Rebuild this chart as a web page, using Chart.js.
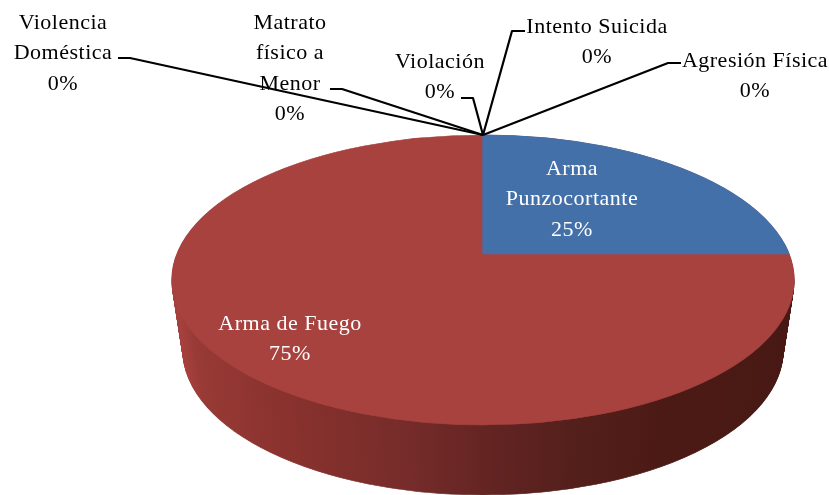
<!DOCTYPE html>
<html>
<head>
<meta charset="utf-8">
<script src="https://cdn.jsdelivr.net/npm/chart.js@4"></script>
<style>
    html, body { margin: 0; padding: 0; background: #fff; }
    #wrap { width: 829px; height: 495px; }
</style>
</head>
<body>
<div id="wrap"><canvas id="chart"></canvas></div>
<script>
const categories = ['Arma Punzocortante', 'Arma de Fuego', 'Violencia Doméstica', 'Matrato físico a Menor', 'Violación', 'Intento Suicida', 'Agresión Física'];
const values = [25, 75, 0, 0, 0, 0, 0];
const colors = ['#4370a8', '#a8423f', '#a8423f', '#a8423f', '#a8423f', '#a8423f', '#a8423f'];

// where each label goes: wrapped lines, centre x, first baseline y, leader line points
const labelLayout = [
    { lines: ['Arma', 'Punzocortante'], x: 572, y: 175, color: '#fff' },
    { lines: ['Arma de Fuego'], x: 290, y: 330, color: '#fff' },
    { lines: ['Violencia', 'Doméstica'], x: 63, y: 29, color: '#000', leader: [[118, 58], [130, 58]] },
    { lines: ['Matrato', 'físico a', 'Menor'], x: 290, y: 29, color: '#000', leader: [[330, 89], [342, 89]] },
    { lines: ['Violación'], x: 440, y: 68, color: '#000', leader: [[461, 98], [473, 98]] },
    { lines: ['Intento Suicida'], x: 597, y: 33, color: '#000', leader: [[525, 31], [512, 31]] },
    { lines: ['Agresión Física'], x: 755, y: 67, color: '#000', leader: [[681, 63], [668, 63]] }
];

// el disco visto en perspectiva
const top3d = { cx: 483, cy: 280, rx: 311, ry: 145 };
const base3d = { cx: 483, cy: 350, rx: 300, ry: 145 };
const sliceApex = { cx: 483, cy: 254, rx: 330, ry: 125 };
const LINE_HEIGHT = 30.3;

function drawArc(ctx, arc, box, color) {
    const saved = arc.options;
    const r = arc.outerRadius;
    arc.options = Object.create(saved);
    arc.options.backgroundColor = color;
    arc.options.borderColor = color;
    arc.options.borderWidth = 1;
    ctx.save();
    ctx.translate(box.cx, box.cy);
    ctx.scale(box.rx / r, box.ry / r);
    ctx.translate(-arc.x, -arc.y);
    arc.draw(ctx);
    ctx.restore();
    arc.options = saved;
}

const pie3d = {
    id: 'pie3d',
    beforeDatasetsDraw(chart) {
        const ctx = chart.ctx;
        const arcs = chart.getDatasetMeta(0).data;

        // Cara lateral
        const side = ctx.createLinearGradient(172, 0, 793, 0);
        side.addColorStop(0, '#a5403d');
        side.addColorStop(0.02, '#983a36');
        side.addColorStop(0.13, '#8a322e');
        side.addColorStop(0.29, '#762c2a');
        side.addColorStop(0.40, '#632422');
        side.addColorStop(0.50, '#55201c');
        side.addColorStop(0.62, '#4c1a15');
        side.addColorStop(1, '#431813');
        const steps = 70;
        for (let i = steps; i > 0; i--) {
            const t = i / steps;
            const box = {
                cx: top3d.cx,
                cy: top3d.cy + (base3d.cy - top3d.cy) * t,
                rx: top3d.rx + (base3d.rx - top3d.rx) * t,
                ry: top3d.ry
            };
            arcs.forEach(arc => drawArc(ctx, arc, box, side));
        }

        // Cara superior: disco rojo completo, luego la porción azul
        arcs.forEach(arc => drawArc(ctx, arc, top3d, colors[1]));
        ctx.save();
        ctx.beginPath();
        ctx.ellipse(top3d.cx, top3d.cy, top3d.rx + 0.6, top3d.ry + 0.6, 0, 0, Math.PI * 2);
        ctx.clip();
        drawArc(ctx, arcs[0], sliceApex, colors[0]);
        ctx.restore();
        return false;
    },
    afterDraw(chart) {
        const ctx = chart.ctx;
        const total = values.reduce((a, b) => a + b, 0);
        const apexX = top3d.cx;
        const apexY = top3d.cy - top3d.ry;

        ctx.save();
        ctx.strokeStyle = '#000';
        ctx.lineWidth = 2.2;
        ctx.lineJoin = 'round';
        labelLayout.forEach(l => {
            if (!l.leader) return;
            ctx.beginPath();
            ctx.moveTo(l.leader[0][0], l.leader[0][1]);
            ctx.lineTo(l.leader[1][0], l.leader[1][1]);
            ctx.lineTo(apexX, apexY);
            ctx.stroke();
        });

        ctx.font = '22px "Liberation Serif"';
        ctx.letterSpacing = '0.5px';
        ctx.textAlign = 'center';
        ctx.textBaseline = 'alphabetic';
        labelLayout.forEach((l, i) => {
            const pct = Math.round(values[i] / total * 100) + '%';
            ctx.fillStyle = l.color;
            l.lines.concat(pct).forEach((txt, n) => {
                ctx.fillText(txt, l.x, l.y + n * LINE_HEIGHT);
            });
        });
        ctx.restore();
    }
};

new Chart(document.getElementById('chart').getContext('2d'), {
    type: 'pie',
    data: {
        labels: categories,
        datasets: [{ data: values, backgroundColor: colors, borderWidth: 0 }]
    },
    options: {
        responsive: true,
        maintainAspectRatio: false,
        animation: false,
        events: [],
        plugins: { legend: { display: false }, tooltip: { enabled: false } }
    },
    plugins: [pie3d]
});
</script>
</body>
</html>
